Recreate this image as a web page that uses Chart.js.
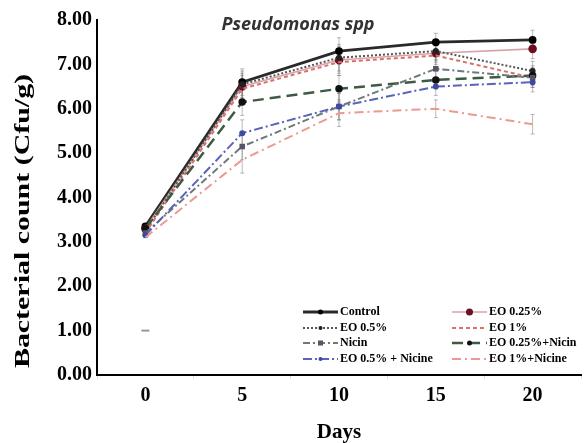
<!DOCTYPE html>
<html>
<head>
<meta charset="utf-8">
<script src="https://cdn.jsdelivr.net/npm/chart.js@4.4.1/dist/chart.umd.min.js"></script>
<style>
  html, body { margin: 0; padding: 0; background: #fff; }
  #wrap { position: relative; width: 587px; height: 443px; }
</style>
</head>
<body>
<div id="wrap"><canvas id="c" width="587" height="443"></canvas></div>
<script>
// ---- data ----
const days = ['0', '5', '10', '15', '20'];
const control       = [3.35, 6.60, 7.30, 7.50, 7.55];
const eo025         = [3.30, 6.50, 7.10, 7.25, 7.35];
const eo05          = [3.25, 6.55, 7.15, 7.30, 6.85];
const eo1           = [3.20, 6.45, 7.05, 7.20, 6.70];
const nicin         = [3.20, 5.15, 6.05, 6.90, 6.70];
const eo025Nicin    = [3.30, 6.15, 6.45, 6.65, 6.75];
const eo05Nicine    = [3.15, 5.45, 6.05, 6.50, 6.60];
const eo1Nicine     = [3.10, 4.85, 5.90, 6.00, 5.65];
const strayPoint    = [1.00, null, null, null, null];
const errByDay      = [0.15, 0.30, 0.30, 0.20, 0.22];
const yTicks        = [0, 1, 2, 3, 4, 5, 6, 7, 8];
const chartTitle    = 'Pseudomonas spp';
const yTitle        = 'Bacterial count (Cfu/g)';
const xTitle        = 'Days';

const serif = "'Liberation Serif', 'Times New Roman', serif";

function ds(label, data, color, width, dash, pStyle, pRadius, pColor, legendCol) {
  return {
    label, data,
    borderColor: color, borderWidth: width, borderDash: dash,
    pointStyle: pStyle, pointRadius: pRadius, pointHoverRadius: pRadius,
    pointBackgroundColor: pColor, pointBorderColor: pColor,
    fill: false, tension: 0, legendCol, errorBars: true
  };
}

const datasets = [
  ds('EO 1%+Nicine',     eo1Nicine,  '#ec9a90', 2,   [9, 4, 2, 4], 'circle', 0,   '#e07b70', 1),
  ds('EO 0.5% + Nicine', eo05Nicine, '#5a64b8', 2,   [9, 3, 2, 3], 'circle', 2,   '#3c4aa0', 0),
  ds('Nicin',            nicin,      '#6c7a78', 2,   [7, 3, 2, 3], 'rect',   2.5, '#556', 0),
  ds('EO 0.25%+Nicin',   eo025Nicin, '#3d5a44', 2.5, [11, 6],      'circle', 2.5, '#111', 1),
  ds('EO 1%',            eo1,        '#d9706a', 2,   [4, 3],       'circle', 0,   '#c55', 1),
  ds('EO 0.5%',          eo05,       '#555',    2,   [2, 2],       'circle', 2,   '#222', 0),
  ds('EO 0.25%',         eo025,      '#d7a3aa', 1.6, [],           'circle', 3.5, '#6b1020', 1),
  ds('Control',          control,    '#2a2a2a', 2.8, [],           'circle', 2.5, '#000', 0),
  { label: '', data: strayPoint, showLine: false, pointStyle: 'line', pointRadius: 4,
    pointBorderColor: '#999', pointBorderWidth: 2, borderColor: '#999', legendCol: -1, errorBars: false }
];

const legendOrder = [
  ['Control', 'EO 0.5%', 'Nicin', 'EO 0.5% + Nicine'],
  ['EO 0.25%', 'EO 1%', 'EO 0.25%+Nicin', 'EO 1%+Nicine']
];

const extrasPlugin = {
  id: 'extras',
  beforeDatasetsDraw(chart) {
    const ctx = chart.ctx;
    const ys = chart.scales.y;
    ctx.save();
    ctx.strokeStyle = 'rgba(120,120,120,0.5)';
    ctx.lineWidth = 1;
    chart.data.datasets.forEach((d, di) => {
      if (!d.errorBars) return;
      const meta = chart.getDatasetMeta(di);
      meta.data.forEach((pt, i) => {
        if (i === 0) return;
        const v = d.data[i];
        const e = errByDay[i];
        const y1 = ys.getPixelForValue(v - e), y2 = ys.getPixelForValue(v + e);
        ctx.beginPath();
        ctx.moveTo(pt.x, y1); ctx.lineTo(pt.x, y2);
        ctx.moveTo(pt.x - 2, y1); ctx.lineTo(pt.x + 2, y1);
        ctx.moveTo(pt.x - 2, y2); ctx.lineTo(pt.x + 2, y2);
        ctx.stroke();
      });
    });
    ctx.restore();
  },
  afterDraw(chart) {
    const ctx = chart.ctx;
    // chart title
    ctx.save();
    ctx.font = "italic bold 18px 'Open Sans', 'DejaVu Sans', sans-serif";
    ctx.fillStyle = '#333';
    ctx.textAlign = 'center';
    ctx.textBaseline = 'middle';
    ctx.fillText(chartTitle, 298, 25);
    ctx.restore();

    // y axis title (stretched)
    ctx.save();
    ctx.font = 'bold 22px ' + serif;
    ctx.fillStyle = '#000';
    ctx.textAlign = 'center';
    ctx.textBaseline = 'middle';
    ctx.translate(23, 221);
    ctx.rotate(-Math.PI / 2);
    ctx.scale(1.36, 1);
    ctx.fillText(yTitle, 0, 0);
    ctx.restore();

    // legend
    const colX = [[303, 338, 340], [452, 487, 489]];
    const rowY = [312, 328, 343, 359];
    ctx.save();
    ctx.font = 'bold 12px ' + serif;
    ctx.textBaseline = 'middle';
    legendOrder.forEach((col, c) => {
      col.forEach((lab, r) => {
        const d = chart.data.datasets.find(x => x.label === lab);
        const [x0, x1, tx] = colX[c];
        const y = rowY[r];
        ctx.save();
        ctx.strokeStyle = d.borderColor;
        ctx.lineWidth = d.borderWidth;
        ctx.setLineDash(d.borderDash || []);
        ctx.beginPath(); ctx.moveTo(x0, y); ctx.lineTo(x1, y); ctx.stroke();
        ctx.setLineDash([]);
        if (d.pointRadius > 0) {
          ctx.fillStyle = d.pointBackgroundColor;
          const r0 = d.pointRadius;
          const cx = (x0 + x1) / 2;
          if (d.pointStyle === 'rect') ctx.fillRect(cx - r0, y - r0, 2 * r0, 2 * r0);
          else { ctx.beginPath(); ctx.arc(cx, y, r0, 0, Math.PI * 2); ctx.fill(); }
        }
        ctx.restore();
        ctx.fillStyle = '#000';
        ctx.textAlign = 'left';
        ctx.fillText(lab, tx, y);
      });
    });
    ctx.restore();
  }
};

new Chart(document.getElementById('c'), {
  type: 'line',
  data: { labels: days, datasets },
  options: {
    responsive: false,
    animation: false,
    events: [],
    layout: { padding: { top: 20, right: 5, bottom: 0, left: 0 } },
    plugins: { legend: { display: false }, tooltip: { enabled: false }, title: { display: false } },
    scales: {
      x: {
        type: 'category',
        offset: true,
        grid: { display: true, drawOnChartArea: false, offset: true, tickLength: 4, color: 'rgba(0,0,0,0.12)' },
        border: { display: true, color: '#000', width: 2 },
        ticks: { color: '#000', padding: 5, font: { family: serif, size: 20, weight: 'bold' } },
        title: { display: true, text: xTitle, color: '#000', padding: { top: 0, bottom: -2 },
                 font: { family: serif, size: 21, weight: 'bold' } },
        afterFit(s) { s.height = 68; }
      },
      y: {
        min: 0, max: 8,
        afterBuildTicks(s) { s.ticks = yTicks.map(v => ({ value: v })); },
        grid: { display: false, drawTicks: false },
        border: { display: true, color: '#000', width: 2 },
        ticks: { color: '#000', padding: 5, font: { family: serif, size: 20, weight: 'bold' },
                 callback: v => Number(v).toFixed(2) },
        title: { display: false },
        afterFit(s) { s.width = 97; }
      }
    }
  },
  plugins: [extrasPlugin]
});
</script>
</body>
</html>
